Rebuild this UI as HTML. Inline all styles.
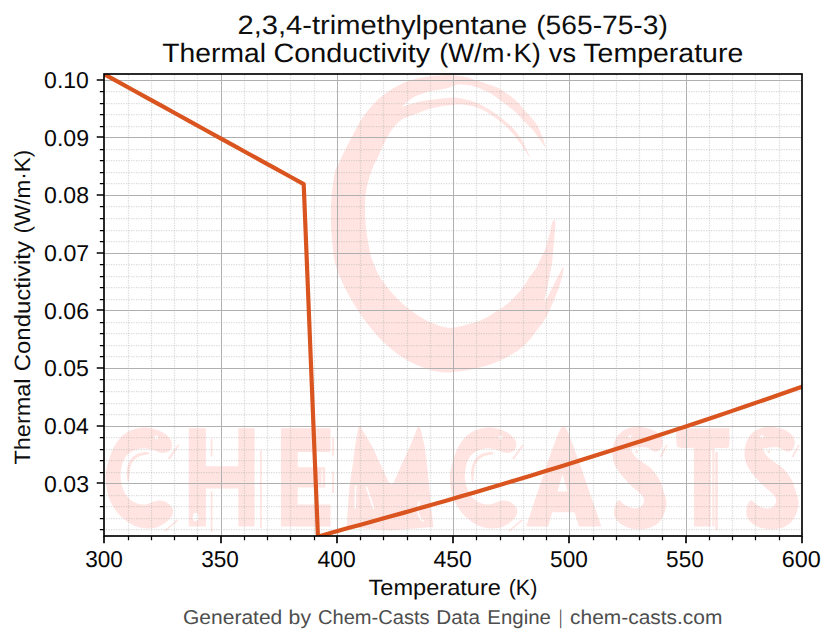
<!DOCTYPE html>
<html><head><meta charset="utf-8"><title>2,3,4-trimethylpentane Thermal Conductivity</title>
<style>html,body{margin:0;padding:0;background:#fff;width:836px;height:644px;overflow:hidden}svg{display:block}</style>
</head><body>
<svg width="836" height="644" viewBox="0 0 836 644">
<defs><clipPath id="ax"><rect x="104" y="74" width="698" height="462"/></clipPath></defs>
<rect width="836" height="644" fill="#fff"/>
<g clip-path="url(#ax)" fill="#ffe4e1"><path d="M545.9 148.0 C545.9 148.0 544.1 140.9 542.4 136.7 C540.7 132.5 538.3 126.9 535.5 122.7 C532.7 118.5 529.0 115.2 525.7 111.5 C522.4 107.8 520.1 104.1 515.9 100.4 C511.7 96.7 505.1 91.9 500.5 89.2 C495.9 86.5 491.9 85.7 488.0 84.3 C484.1 82.9 480.4 81.8 476.8 80.6 C473.2 79.4 470.3 77.9 466.1 77.0 C461.9 76.1 456.6 75.4 451.8 75.2 C447.0 75.0 442.4 75.2 437.4 75.6 C432.4 76.0 426.9 76.4 421.9 77.4 C416.9 78.4 411.7 79.8 407.2 81.4 C402.7 83.0 398.9 84.9 395.0 87.2 C391.1 89.5 386.9 92.5 383.5 95.0 C380.1 97.5 377.6 99.7 374.9 102.4 C372.2 105.1 369.7 108.2 367.4 111.1 C365.1 114.0 363.3 116.5 361.2 119.8 C359.1 123.1 357.6 126.1 355.0 131.0 C352.4 135.9 348.2 143.7 345.5 149.0 C342.8 154.3 340.7 159.3 339.0 163.0 C337.3 166.7 336.1 167.2 335.1 171.0 C334.1 174.8 333.5 180.5 332.8 185.5 C332.1 190.5 331.5 195.8 331.2 201.0 C330.9 206.2 330.8 211.4 330.9 216.6 C330.9 221.8 331.2 226.9 331.5 232.1 C331.8 237.3 332.3 242.6 332.8 247.6 C333.3 252.6 333.4 256.7 334.7 261.9 C336.0 267.1 338.1 272.7 340.6 278.6 C343.1 284.5 346.2 290.8 349.9 297.3 C353.6 303.8 358.2 311.3 362.9 317.8 C367.6 324.3 372.3 330.5 377.9 336.4 C383.5 342.3 390.3 348.5 396.5 353.2 C402.7 357.9 408.9 361.4 415.1 364.3 C421.3 367.2 428.0 369.5 433.8 370.9 C439.6 372.2 444.7 372.4 450.0 372.4 C455.3 372.3 461.3 371.3 465.7 370.6 C470.1 369.9 472.5 369.1 476.3 368.2 C480.1 367.3 484.7 366.4 488.7 365.1 C492.7 363.8 496.2 362.5 500.2 360.6 C504.2 358.7 508.9 356.1 512.6 353.9 C516.3 351.7 519.3 349.6 522.2 347.2 C525.1 344.8 527.5 342.4 529.9 339.6 C532.3 336.8 534.4 333.4 536.6 330.5 C538.8 327.6 541.0 325.2 543.1 322.0 C545.2 318.8 547.5 314.4 549.0 311.5 C550.5 308.6 551.2 306.7 552.2 304.3 C553.2 301.9 554.1 299.8 555.2 297.0 C556.3 294.2 557.8 290.7 558.9 287.6 C560.0 284.5 560.9 281.2 561.7 278.3 C562.5 275.4 563.3 272.0 563.5 270.0 C563.7 268.0 563.1 266.2 563.1 266.2 C563.1 266.2 562.7 267.5 561.7 269.5 C560.7 271.5 558.5 275.3 557.0 278.3 C555.5 281.3 553.9 284.5 552.4 287.6 C550.9 290.7 549.1 294.7 547.7 297.0 C546.3 299.3 544.0 301.6 544.0 301.6 C544.0 301.6 545.6 295.4 546.3 292.3 C547.0 289.2 547.6 286.1 548.2 283.0 C548.8 279.9 549.4 276.7 550.0 273.6 C550.6 270.5 551.4 267.4 551.9 264.3 C552.4 261.2 552.4 258.7 552.8 255.0 C553.1 251.3 553.7 245.2 554.0 242.0 C554.3 238.8 554.4 238.7 554.6 235.6 C554.9 232.5 555.5 226.4 555.5 223.7 C555.5 221.0 554.6 219.4 554.6 219.4 C554.6 219.4 553.2 219.6 552.4 222.0 C551.5 224.4 550.7 229.3 549.5 233.9 C548.3 238.5 546.4 245.7 545.2 249.3 C544.0 252.9 543.2 253.3 542.1 255.5 C541.0 257.7 539.9 260.2 538.8 262.5 C537.7 264.8 537.1 266.7 535.6 269.0 C534.1 271.3 532.3 273.1 530.0 276.4 C527.7 279.7 525.1 284.8 521.7 289.0 C518.3 293.2 513.7 298.2 509.7 301.8 C505.7 305.4 502.1 307.7 497.8 310.5 C493.5 313.3 489.2 316.3 484.1 318.7 C479.0 321.1 472.8 323.1 467.1 324.6 C461.4 326.2 455.2 328.1 450.0 328.0 C444.8 327.9 440.8 326.3 435.6 324.3 C430.4 322.3 424.1 319.2 418.8 315.9 C413.5 312.6 408.5 308.7 403.9 304.7 C399.2 300.7 394.9 296.3 390.9 291.7 C386.9 287.1 382.4 281.1 379.7 276.8 C377.0 272.5 376.2 269.6 374.7 266.0 C373.2 262.4 372.0 259.8 370.8 255.4 C369.6 251.1 368.6 245.1 367.7 239.9 C366.8 234.7 366.1 229.5 365.7 224.3 C365.3 219.1 365.1 214.0 365.1 208.8 C365.1 203.6 365.2 197.9 365.7 193.3 C366.2 188.7 367.4 184.6 368.3 181.0 C369.2 177.4 370.3 174.4 371.4 171.5 C372.4 168.6 373.5 165.9 374.6 163.5 C375.7 161.1 376.8 159.5 378.0 157.0 C379.2 154.5 380.4 151.3 381.7 148.4 C383.0 145.5 384.4 142.6 386.0 139.7 C387.6 136.8 389.1 133.7 391.0 131.0 C392.9 128.3 394.9 125.7 397.2 123.5 C399.5 121.3 401.4 119.6 404.6 118.0 C407.8 116.4 413.1 115.0 416.5 113.7 C419.9 112.4 422.1 111.2 425.2 110.2 C428.3 109.2 431.8 108.3 435.2 107.6 C438.6 106.9 442.4 106.2 445.3 105.8 C448.2 105.4 449.9 105.4 452.4 105.1 C454.8 104.8 456.4 104.0 460.0 104.2 C463.6 104.5 469.3 105.1 474.0 106.6 C478.7 108.0 483.4 110.2 488.0 112.9 C492.6 115.6 497.7 119.2 501.9 122.7 C506.1 126.2 509.8 130.2 513.1 133.9 C516.4 137.6 519.1 141.8 521.5 145.1 C523.9 148.4 525.8 151.8 527.3 154.0 C528.8 156.2 530.6 158.4 530.6 158.4 C530.6 158.4 528.6 153.8 527.1 150.7 C525.6 147.5 523.8 143.2 521.5 139.5 C519.2 135.8 516.4 131.8 513.1 128.3 C509.8 124.8 506.1 121.8 501.9 118.5 C497.7 115.2 492.6 111.5 488.0 108.7 C483.4 105.9 478.7 103.5 474.0 101.8 C469.3 100.1 463.6 99.0 460.0 98.3 C456.4 97.6 456.0 97.5 452.4 97.6 C448.8 97.7 442.9 98.5 438.1 99.0 C433.3 99.5 428.5 99.9 423.7 100.8 C418.9 101.7 413.1 103.4 409.4 104.4 C405.7 105.4 401.5 106.9 401.5 106.9 C401.5 106.9 406.5 102.3 409.0 100.5 C411.5 98.7 413.2 97.3 416.5 95.8 C419.8 94.3 425.1 92.5 428.7 91.5 C432.3 90.5 435.2 90.5 438.1 90.0 C441.0 89.5 443.6 89.2 446.0 88.6 C448.4 88.0 450.1 87.0 452.4 86.3 C454.7 85.6 456.4 84.3 460.0 84.3 C463.6 84.3 469.3 85.1 474.0 86.4 C478.7 87.7 483.6 89.7 488.0 92.0 C492.4 94.3 496.3 97.4 500.5 100.4 C504.7 103.4 509.4 106.8 513.1 110.1 C516.8 113.3 519.6 116.6 522.9 119.9 C526.2 123.2 529.9 126.4 532.7 129.7 C535.5 133.0 537.5 136.4 539.7 139.5 C541.9 142.6 545.9 148.0 545.9 148.0Z"/>
<g transform="translate(-344.3 0.0)"><path d="M516.3 444.0 C516.1 442.1 515.4 440.2 513.9 438.3 C512.4 436.4 509.9 434.1 507.2 432.5 C504.5 430.9 501.2 429.5 497.7 428.7 C494.2 427.9 490.0 427.4 486.2 427.7 C482.4 428.0 478.4 428.8 474.7 430.6 C471.0 432.4 467.2 435.0 464.2 438.3 C461.2 441.6 458.6 446.2 456.5 450.7 C454.4 455.2 452.8 460.9 451.7 465.1 C450.6 469.3 449.9 472.3 449.8 476.0 C449.7 479.7 450.2 483.7 450.8 487.5 C451.4 491.3 452.3 495.3 453.7 499.0 C455.1 502.7 457.2 506.3 459.4 509.5 C461.6 512.7 464.2 515.6 467.1 518.1 C470.0 520.6 473.1 523.1 476.6 524.8 C480.1 526.5 484.3 527.7 488.1 528.2 C491.9 528.7 496.1 528.6 499.6 527.7 C503.1 526.8 506.5 524.8 509.2 522.9 C511.9 521.0 514.5 518.3 515.9 516.2 C517.2 514.1 517.5 512.1 517.3 510.4 C517.1 508.6 516.2 507.2 514.9 505.7 C513.5 504.2 511.1 502.3 509.2 501.4 C507.3 500.5 505.3 500.3 503.4 500.4 C501.5 500.5 499.8 501.2 497.7 501.8 C495.6 502.4 493.2 503.8 491.0 504.2 C488.8 504.6 486.5 504.6 484.3 504.2 C482.1 503.8 479.7 503.0 477.6 501.8 C475.5 500.6 473.4 499.0 471.8 497.1 C470.2 495.2 469.1 492.8 468.0 490.4 C466.9 488.0 466.0 485.4 465.5 483.0 C465.0 480.6 464.8 478.5 464.8 476.0 C464.8 473.5 465.1 470.6 465.6 468.0 C466.1 465.4 467.0 462.6 468.0 460.3 C469.0 458.1 470.2 456.1 471.8 454.5 C473.4 452.9 475.5 451.6 477.6 450.7 C479.7 449.8 481.9 449.1 484.3 448.8 C486.7 448.5 489.3 448.5 491.9 448.8 C494.4 449.1 497.5 450.1 499.6 450.7 C501.7 451.3 502.6 452.3 504.4 452.6 C506.1 452.9 508.4 453.1 510.1 452.6 C511.9 452.1 513.9 451.2 514.9 449.8 C515.9 448.4 516.5 445.9 516.3 444.0Z"/><path d="M492.9 452.4 C492.9 452.4 491.4 451.8 489.5 452.1 C487.6 452.4 483.7 453.1 481.4 454.1 C479.1 455.2 477.2 456.6 475.7 458.4 C474.2 460.2 473.1 462.7 472.3 465.1 C471.5 467.5 471.2 470.3 471.1 472.7 C471.0 475.1 471.4 477.7 471.6 479.4 C471.9 481.1 472.6 483.0 472.6 483.0 C472.6 483.0 473.2 480.9 473.4 479.4 C473.6 477.8 473.7 475.8 473.9 473.7 C474.1 471.6 474.1 469.2 474.8 467.0 C475.5 464.8 476.2 462.4 477.8 460.6 C479.4 458.8 481.8 457.1 484.3 456.0 C486.8 454.9 491.5 454.8 492.9 454.2 C494.3 453.6 492.9 452.4 492.9 452.4Z"/><path d="M512.0 458.6 C512.0 458.6 522.6 444.3 522.6 444.3 C522.6 444.3 523.6 445.6 523.6 445.6 C523.6 445.6 514.2 459.4 514.2 459.4 C514.2 459.4 512.0 458.6 512.0 458.6Z"/><path d="M508.2 531.0 C508.2 531.0 521.4 519.6 521.4 519.6 C521.4 519.6 522.4 521.0 522.4 521.0 C522.4 521.0 509.6 531.6 509.6 531.6 C509.6 531.6 508.2 531.0 508.2 531.0Z"/><circle cx="500.5" cy="437.3" r="1.9" fill="#fff"/></g>
<g transform="translate(0.0 0.0)"><path d="M516.3 444.0 C516.1 442.1 515.4 440.2 513.9 438.3 C512.4 436.4 509.9 434.1 507.2 432.5 C504.5 430.9 501.2 429.5 497.7 428.7 C494.2 427.9 490.0 427.4 486.2 427.7 C482.4 428.0 478.4 428.8 474.7 430.6 C471.0 432.4 467.2 435.0 464.2 438.3 C461.2 441.6 458.6 446.2 456.5 450.7 C454.4 455.2 452.8 460.9 451.7 465.1 C450.6 469.3 449.9 472.3 449.8 476.0 C449.7 479.7 450.2 483.7 450.8 487.5 C451.4 491.3 452.3 495.3 453.7 499.0 C455.1 502.7 457.2 506.3 459.4 509.5 C461.6 512.7 464.2 515.6 467.1 518.1 C470.0 520.6 473.1 523.1 476.6 524.8 C480.1 526.5 484.3 527.7 488.1 528.2 C491.9 528.7 496.1 528.6 499.6 527.7 C503.1 526.8 506.5 524.8 509.2 522.9 C511.9 521.0 514.5 518.3 515.9 516.2 C517.2 514.1 517.5 512.1 517.3 510.4 C517.1 508.6 516.2 507.2 514.9 505.7 C513.5 504.2 511.1 502.3 509.2 501.4 C507.3 500.5 505.3 500.3 503.4 500.4 C501.5 500.5 499.8 501.2 497.7 501.8 C495.6 502.4 493.2 503.8 491.0 504.2 C488.8 504.6 486.5 504.6 484.3 504.2 C482.1 503.8 479.7 503.0 477.6 501.8 C475.5 500.6 473.4 499.0 471.8 497.1 C470.2 495.2 469.1 492.8 468.0 490.4 C466.9 488.0 466.0 485.4 465.5 483.0 C465.0 480.6 464.8 478.5 464.8 476.0 C464.8 473.5 465.1 470.6 465.6 468.0 C466.1 465.4 467.0 462.6 468.0 460.3 C469.0 458.1 470.2 456.1 471.8 454.5 C473.4 452.9 475.5 451.6 477.6 450.7 C479.7 449.8 481.9 449.1 484.3 448.8 C486.7 448.5 489.3 448.5 491.9 448.8 C494.4 449.1 497.5 450.1 499.6 450.7 C501.7 451.3 502.6 452.3 504.4 452.6 C506.1 452.9 508.4 453.1 510.1 452.6 C511.9 452.1 513.9 451.2 514.9 449.8 C515.9 448.4 516.5 445.9 516.3 444.0Z"/><path d="M492.9 452.4 C492.9 452.4 491.4 451.8 489.5 452.1 C487.6 452.4 483.7 453.1 481.4 454.1 C479.1 455.2 477.2 456.6 475.7 458.4 C474.2 460.2 473.1 462.7 472.3 465.1 C471.5 467.5 471.2 470.3 471.1 472.7 C471.0 475.1 471.4 477.7 471.6 479.4 C471.9 481.1 472.6 483.0 472.6 483.0 C472.6 483.0 473.2 480.9 473.4 479.4 C473.6 477.8 473.7 475.8 473.9 473.7 C474.1 471.6 474.1 469.2 474.8 467.0 C475.5 464.8 476.2 462.4 477.8 460.6 C479.4 458.8 481.8 457.1 484.3 456.0 C486.8 454.9 491.5 454.8 492.9 454.2 C494.3 453.6 492.9 452.4 492.9 452.4Z"/><path d="M512.0 458.6 C512.0 458.6 522.6 444.3 522.6 444.3 C522.6 444.3 523.6 445.6 523.6 445.6 C523.6 445.6 514.2 459.4 514.2 459.4 C514.2 459.4 512.0 458.6 512.0 458.6Z"/><path d="M508.2 531.0 C508.2 531.0 521.4 519.6 521.4 519.6 C521.4 519.6 522.4 521.0 522.4 521.0 C522.4 521.0 509.6 531.6 509.6 531.6 C509.6 531.6 508.2 531.0 508.2 531.0Z"/><circle cx="500.5" cy="437.3" r="1.9" fill="#fff"/></g>
<path d="M188.7 428.2 L205.9 428.2 L205.9 466.3 L238.3 466.3 L238.3 428.2 L254.6 428.2 L254.6 526.5 L238.3 526.5 L238.3 488.4 L205.9 488.4 L205.9 526.5 L188.7 526.5Z"/>
<path d="M210.7 438.8 L212.5 438.8 L212.5 456.5 L210.7 456.5Z"/>
<path d="M210.7 491.1 L212.5 491.1 L212.5 531.9 L210.7 531.9Z"/>
<path d="M260.0 450.3 L261.7 450.3 L261.7 528.3 L260.0 528.3Z"/>
<path d="M280.9 428.2 L330.5 428.2 L330.5 452.1 L297.7 452.1 L297.7 467.2 L325.2 467.2 L325.2 487.6 L297.7 487.6 L297.7 504.4 L330.5 504.4 L330.5 526.6 L280.9 526.6Z"/>
<path d="M332.2 438.0 L334.0 438.0 L334.0 455.6 L332.2 455.6Z"/>
<path d="M332.2 471.6 L334.0 471.6 L334.0 492.9 L332.2 492.9Z"/>
<path d="M346.8 527.0 C346.8 527.0 348.2 500.5 349.2 490.0 C350.2 479.5 351.8 471.2 352.8 463.9 C353.8 456.5 354.3 451.7 355.2 445.9 C356.1 440.1 357.3 432.4 358.1 429.2 C358.9 426.0 359.3 426.6 359.9 426.6 C360.5 426.6 361.8 429.0 361.8 429.0 C361.8 429.0 368.8 440.1 371.9 445.9 C375.0 451.7 380.3 463.9 380.3 463.9 C380.3 463.9 388.7 481.8 388.7 481.8 C388.7 481.8 390.6 484.6 391.5 484.6 C392.4 484.6 394.2 481.8 394.2 481.8 C394.2 481.8 401.8 463.9 401.8 463.9 C401.8 463.9 407.7 451.7 410.2 445.9 C412.7 440.1 416.8 429.2 416.8 429.2 C416.8 429.2 418.0 426.6 418.6 426.6 C419.2 426.6 420.6 429.2 420.6 429.2 C420.6 429.2 423.4 440.1 424.5 445.9 C425.6 451.7 426.2 457.9 426.9 463.9 C427.6 469.9 428.0 474.9 428.7 481.8 C429.4 488.7 430.2 497.5 431.0 505.0 C431.8 512.5 433.5 527.0 433.5 527.0 C433.5 527.0 391.0 530.5 391.0 530.5 C391.0 530.5 346.8 527.0 346.8 527.0Z"/>
<path d="M526.2 526.5 C526.2 526.5 545.0 470.0 545.0 470.0 C545.0 470.0 555.4 440.1 558.5 433.0 C561.6 425.9 561.8 427.3 563.4 427.3 C565.0 427.3 565.2 425.9 568.3 433.0 C571.4 440.1 582.0 470.0 582.0 470.0 C582.0 470.0 601.4 526.5 601.4 526.5 C601.4 526.5 579.0 526.5 579.0 526.5 C579.0 526.5 574.5 512.3 574.5 512.3 C574.5 512.3 552.3 512.3 552.3 512.3 C552.3 512.3 548.3 526.5 548.3 526.5 C548.3 526.5 526.2 526.5 526.2 526.5Z M562.5 474.0 L567.5 491.5 L557.5 491.5Z" fill-rule="evenodd"/>
<g transform="translate(-132.1 0)"><path d="M794.5 440.0 C794.0 438.1 793.0 436.2 791.4 434.6 C789.8 433.0 787.6 431.3 785.0 430.1 C782.4 428.9 779.0 427.9 776.0 427.4 C773.0 426.9 770.0 426.7 767.0 427.0 C764.0 427.3 760.7 427.9 758.0 429.2 C755.3 430.5 752.8 432.4 750.8 434.6 C748.8 436.9 747.3 439.9 746.3 442.7 C745.2 445.5 744.6 448.7 744.5 451.7 C744.4 454.7 744.6 457.8 745.4 460.7 C746.1 463.6 747.5 466.2 749.0 468.8 C750.5 471.4 752.4 473.7 754.4 476.1 C756.4 478.5 758.2 480.7 760.7 483.2 C763.2 485.7 767.3 489.1 769.7 491.3 C772.1 493.6 774.1 494.9 775.1 496.7 C776.1 498.5 776.3 500.5 776.0 502.1 C775.7 503.8 774.8 505.6 773.3 506.6 C771.8 507.7 769.2 508.4 767.0 508.4 C764.8 508.4 761.9 507.5 759.8 506.6 C757.7 505.7 755.8 504.1 754.4 503.0 C753.0 501.9 752.6 500.4 751.7 500.3 C750.8 500.2 749.8 500.9 749.0 502.1 C748.2 503.3 747.2 505.6 746.8 507.5 C746.3 509.4 746.1 511.8 746.3 513.8 C746.5 515.8 747.0 517.6 748.1 519.2 C749.2 520.9 750.7 522.3 752.6 523.7 C754.5 525.1 757.1 526.5 759.8 527.4 C762.5 528.3 765.8 529.0 768.8 529.2 C771.8 529.4 774.9 529.2 777.8 528.7 C780.6 528.2 783.5 527.3 785.9 526.0 C788.3 524.7 790.5 523.0 792.3 521.0 C794.1 519.0 795.8 516.3 796.8 513.8 C797.8 511.2 798.5 508.4 798.6 505.7 C798.8 503.0 798.3 500.3 797.7 497.6 C797.1 494.9 796.0 492.5 795.0 489.5 C794.0 486.5 793.5 483.0 791.5 479.5 C789.5 476.0 786.1 471.4 783.2 468.5 C780.3 465.6 776.9 464.1 774.2 462.0 C771.5 459.9 769.0 458.4 767.0 456.2 C765.0 454.0 762.5 448.6 762.5 448.6 C762.5 448.6 767.3 447.6 770.0 447.4 C772.7 447.2 775.9 446.9 778.7 447.6 C781.5 448.3 784.7 451.2 786.8 451.7 C788.9 452.1 790.2 451.2 791.5 450.3 C792.8 449.4 793.8 447.7 794.3 446.0 C794.8 444.3 795.0 441.9 794.5 440.0Z"/><path d="M791.6 456.6 C791.6 456.6 798.6 444.3 798.6 444.3 C798.6 444.3 799.6 445.6 799.6 445.6 C799.6 445.6 793.4 457.4 793.4 457.4 C793.4 457.4 791.6 456.6 791.6 456.6Z"/><path d="M799 505 C798 515 793 524 784 530" fill="none" stroke="#fff" stroke-width="1.3"/><circle cx="762.1" cy="436.5" r="1.6" fill="#fff"/><circle cx="768.8" cy="451.7" r="1.4"/></g>
<g transform="translate(0.0 0)"><path d="M794.5 440.0 C794.0 438.1 793.0 436.2 791.4 434.6 C789.8 433.0 787.6 431.3 785.0 430.1 C782.4 428.9 779.0 427.9 776.0 427.4 C773.0 426.9 770.0 426.7 767.0 427.0 C764.0 427.3 760.7 427.9 758.0 429.2 C755.3 430.5 752.8 432.4 750.8 434.6 C748.8 436.9 747.3 439.9 746.3 442.7 C745.2 445.5 744.6 448.7 744.5 451.7 C744.4 454.7 744.6 457.8 745.4 460.7 C746.1 463.6 747.5 466.2 749.0 468.8 C750.5 471.4 752.4 473.7 754.4 476.1 C756.4 478.5 758.2 480.7 760.7 483.2 C763.2 485.7 767.3 489.1 769.7 491.3 C772.1 493.6 774.1 494.9 775.1 496.7 C776.1 498.5 776.3 500.5 776.0 502.1 C775.7 503.8 774.8 505.6 773.3 506.6 C771.8 507.7 769.2 508.4 767.0 508.4 C764.8 508.4 761.9 507.5 759.8 506.6 C757.7 505.7 755.8 504.1 754.4 503.0 C753.0 501.9 752.6 500.4 751.7 500.3 C750.8 500.2 749.8 500.9 749.0 502.1 C748.2 503.3 747.2 505.6 746.8 507.5 C746.3 509.4 746.1 511.8 746.3 513.8 C746.5 515.8 747.0 517.6 748.1 519.2 C749.2 520.9 750.7 522.3 752.6 523.7 C754.5 525.1 757.1 526.5 759.8 527.4 C762.5 528.3 765.8 529.0 768.8 529.2 C771.8 529.4 774.9 529.2 777.8 528.7 C780.6 528.2 783.5 527.3 785.9 526.0 C788.3 524.7 790.5 523.0 792.3 521.0 C794.1 519.0 795.8 516.3 796.8 513.8 C797.8 511.2 798.5 508.4 798.6 505.7 C798.8 503.0 798.3 500.3 797.7 497.6 C797.1 494.9 796.0 492.5 795.0 489.5 C794.0 486.5 793.5 483.0 791.5 479.5 C789.5 476.0 786.1 471.4 783.2 468.5 C780.3 465.6 776.9 464.1 774.2 462.0 C771.5 459.9 769.0 458.4 767.0 456.2 C765.0 454.0 762.5 448.6 762.5 448.6 C762.5 448.6 767.3 447.6 770.0 447.4 C772.7 447.2 775.9 446.9 778.7 447.6 C781.5 448.3 784.7 451.2 786.8 451.7 C788.9 452.1 790.2 451.2 791.5 450.3 C792.8 449.4 793.8 447.7 794.3 446.0 C794.8 444.3 795.0 441.9 794.5 440.0Z"/><path d="M791.6 456.6 C791.6 456.6 798.6 444.3 798.6 444.3 C798.6 444.3 799.6 445.6 799.6 445.6 C799.6 445.6 793.4 457.4 793.4 457.4 C793.4 457.4 791.6 456.6 791.6 456.6Z"/><path d="M799 505 C798 515 793 524 784 530" fill="none" stroke="#fff" stroke-width="1.3"/><circle cx="762.1" cy="436.5" r="1.6" fill="#fff"/><circle cx="768.8" cy="451.7" r="1.4"/></g>
<path d="M676.2 428.2 C676.2 428.2 729.4 428.2 729.4 428.2 C729.4 428.2 729.8 440.8 729.4 444.0 C729.0 447.2 729.5 447.1 727.0 447.7 C724.5 448.3 714.3 447.7 714.3 447.7 C714.3 447.7 714.3 526.6 714.3 526.6 C714.3 526.6 693.9 526.6 693.9 526.6 C693.9 526.6 693.9 447.7 693.9 447.7 C693.9 447.7 683.9 448.1 681.0 447.7 C678.1 447.2 677.6 448.2 676.8 445.0 C676.0 441.8 676.2 428.2 676.2 428.2Z"/>
<path d="M715.2 452.0 L717.8 452.0 L717.8 530.0 L715.2 530.0Z"/>
<ellipse cx="195.6" cy="517" rx="2.8" ry="4.2" fill="#fff"/>
<path d="M711.6 449 V527" stroke="#fff" stroke-width="1.5" fill="none"/>
<path d="M355.6 486 L355.2 508 M366.5 487 L373.5 508 M419 502 C417 510 418 518 423 521" stroke="#fff" stroke-width="1.6" fill="none" stroke-linecap="round"/>
<path d="M299.5 454 L301.5 457 M322 470 L322 486" stroke="#fff" stroke-width="1.2" fill="none" stroke-linecap="round"/></g>
<path d="M104.42 529.5H801.92M104.42 518.5H801.92M104.42 506.5H801.92M104.42 495.5H801.92M104.42 472.5H801.92M104.42 460.5H801.92M104.42 449.5H801.92M104.42 437.5H801.92M104.42 414.5H801.92M104.42 403.5H801.92M104.42 391.5H801.92M104.42 379.5H801.92M104.42 356.5H801.92M104.42 345.5H801.92M104.42 333.5H801.92M104.42 322.5H801.92M104.42 299.5H801.92M104.42 287.5H801.92M104.42 276.5H801.92M104.42 264.5H801.92M104.42 241.5H801.92M104.42 230.5H801.92M104.42 218.5H801.92M104.42 206.5H801.92M104.42 183.5H801.92M104.42 172.5H801.92M104.42 160.5H801.92M104.42 149.5H801.92M104.42 126.5H801.92M104.42 114.5H801.92M104.42 103.5H801.92M104.42 91.5H801.92" stroke="#b0b0b0" stroke-opacity="0.45" stroke-width="1.25" stroke-dasharray="1.25 1.25" stroke-dashoffset="0.92" fill="none"/>
<path d="M128.5 536.3V74.3M151.5 536.3V74.3M174.5 536.3V74.3M197.5 536.3V74.3M244.5 536.3V74.3M267.5 536.3V74.3M290.5 536.3V74.3M314.5 536.3V74.3M360.5 536.3V74.3M383.5 536.3V74.3M407.5 536.3V74.3M430.5 536.3V74.3M476.5 536.3V74.3M500.5 536.3V74.3M523.5 536.3V74.3M546.5 536.3V74.3M593.5 536.3V74.3M616.5 536.3V74.3M639.5 536.3V74.3M662.5 536.3V74.3M709.5 536.3V74.3M732.5 536.3V74.3M755.5 536.3V74.3M779.5 536.3V74.3" stroke="#b0b0b0" stroke-opacity="0.45" stroke-width="1.25" stroke-dasharray="1.25 1.25" stroke-dashoffset="2.375" fill="none"/>
<path d="M104.42 80.5H801.92M104.42 137.5H801.92M104.42 195.5H801.92M104.42 253.5H801.92M104.42 310.5H801.92M104.42 368.5H801.92M104.42 426.5H801.92M104.42 483.5H801.92M221.5 536.3V74.3M337.5 536.3V74.3M453.5 536.3V74.3M569.5 536.3V74.3M686.5 536.3V74.3" stroke="#b0b0b0" stroke-width="1" fill="none"/>
<path d="M96.71 80H104M96.71 137H104M96.71 195H104M96.71 253H104M96.71 310H104M96.71 368H104M96.71 426H104M96.71 483H104M104 536V543.29M221 536V543.29M337 536V543.29M453 536V543.29M569 536V543.29M686 536V543.29M802 536V543.29" stroke="#000" stroke-width="1.6667" fill="none"/>
<path d="M99.83 529.5H104M99.83 518.5H104M99.83 506.5H104M99.83 495.5H104M99.83 472.5H104M99.83 460.5H104M99.83 449.5H104M99.83 437.5H104M99.83 414.5H104M99.83 403.5H104M99.83 391.5H104M99.83 379.5H104M99.83 356.5H104M99.83 345.5H104M99.83 333.5H104M99.83 322.5H104M99.83 299.5H104M99.83 287.5H104M99.83 276.5H104M99.83 264.5H104M99.83 241.5H104M99.83 230.5H104M99.83 218.5H104M99.83 206.5H104M99.83 183.5H104M99.83 172.5H104M99.83 160.5H104M99.83 149.5H104M99.83 126.5H104M99.83 114.5H104M99.83 103.5H104M99.83 91.5H104M128.5 536V540.17M151.5 536V540.17M174.5 536V540.17M197.5 536V540.17M244.5 536V540.17M267.5 536V540.17M290.5 536V540.17M314.5 536V540.17M360.5 536V540.17M383.5 536V540.17M407.5 536V540.17M430.5 536V540.17M476.5 536V540.17M500.5 536V540.17M523.5 536V540.17M546.5 536V540.17M593.5 536V540.17M616.5 536V540.17M639.5 536V540.17M662.5 536V540.17M709.5 536V540.17M732.5 536V540.17M755.5 536V540.17M779.5 536V540.17" stroke="#000" stroke-width="1.2500" fill="none"/>
<g clip-path="url(#ax)"><path d="M104.42 74.30 L118.65 82.14 L132.89 89.99 L147.12 97.83 L161.36 105.68 L175.59 113.52 L189.82 121.37 L204.06 129.21 L218.29 137.06 L232.53 144.90 L246.76 152.75 L261.00 160.59 L275.23 168.43 L289.47 176.28 L303.70 184.12 L317.94 536.70 L332.17 532.42 L346.41 528.58 L360.64 524.71 L374.88 520.79 L389.11 516.85 L403.35 512.87 L417.58 508.85 L431.81 504.79 L446.05 500.71 L460.28 496.58 L474.52 492.42 L488.75 488.22 L502.99 483.99 L517.22 479.72 L531.46 475.41 L545.69 471.07 L559.93 466.70 L574.16 462.28 L588.40 457.83 L602.63 453.35 L616.87 448.83 L631.10 444.27 L645.34 439.68 L659.57 435.05 L673.80 430.39 L688.04 425.69 L702.27 420.95 L716.51 416.18 L730.74 411.38 L744.98 406.53 L759.21 401.65 L773.45 396.74 L787.68 391.79 L801.92 386.80" stroke="#d9541e" stroke-width="4.1667" fill="none" stroke-linejoin="round" stroke-linecap="square"/></g>
<rect x="104" y="74" width="698" height="462" fill="none" stroke="#000" stroke-width="1.6667"/>
<g font-family="Liberation Sans, sans-serif" text-rendering="geometricPrecision">
<text transform="translate(237.544 33.906) scale(1.0966 1)" font-size="26.550" fill="#101010">2,3,4-trimethylpentane</text>
<text transform="translate(536.239 33.906) scale(1.0613 1)" font-size="26.550" fill="#101010">(565-75-3)</text>
<text transform="translate(162.365 61.906) scale(1.0634 1)" font-size="26.550" fill="#0b0b0b">Thermal</text>
<text transform="translate(273.563 61.906) scale(1.0821 1)" font-size="26.550" fill="#0b0b0b">Conductivity</text>
<text transform="translate(439.296 61.906) scale(1.0267 1)" font-size="26.550" fill="#0b0b0b">(W/m·K)</text>
<text transform="translate(548.865 61.906) scale(1.0201 1)" font-size="26.550" fill="#0b0b0b">vs</text>
<text transform="translate(583.359 61.906) scale(1.0727 1)" font-size="26.550" fill="#0b0b0b">Temperature</text>
<text transform="translate(368.469 594.755) scale(1.0673 1)" font-size="22.125" fill="#0d0d0d">Temperature</text>
<text transform="translate(508.654 594.755) scale(0.9732 1)" font-size="22.125" fill="#0d0d0d">(K)</text>
<text transform="translate(29.755 464.528) rotate(-90) scale(1.0612 1)" font-size="22.125" fill="#0e0e0e">Thermal</text>
<text transform="translate(29.755 371.196) rotate(-90) scale(1.0807 1)" font-size="22.125" fill="#0e0e0e">Conductivity</text>
<text transform="translate(29.755 233.408) rotate(-90) scale(1.0184 1)" font-size="22.125" fill="#0e0e0e">(W/m·K)</text>
<text transform="translate(182.949 624.469) scale(1.0561 1)" font-size="19.913" fill="#4d4d4d">Generated</text>
<text transform="translate(288.618 624.469) scale(1.0680 1)" font-size="19.913" fill="#4d4d4d">by</text>
<text transform="translate(317.995 624.469) scale(1.0094 1)" font-size="19.913" fill="#4d4d4d">Chem-Casts</text>
<text transform="translate(436.291 624.469) scale(1.0403 1)" font-size="19.913" fill="#4d4d4d">Data</text>
<text transform="translate(487.315 624.469) scale(1.0254 1)" font-size="19.913" fill="#4d4d4d">Engine</text>
<text transform="translate(558.875 624.469) scale(0.6277 1)" font-size="19.913" fill="#4d4d4d">|</text>
<text transform="translate(570.111 624.469) scale(1.0503 1)" font-size="19.913" fill="#4d4d4d">chem-casts.com</text>
<text transform="translate(44.079 87.578) scale(1.0004 1)" font-size="23.017" fill="#070707">0.10</text>
<text transform="translate(44.075 145.578) scale(1.0044 1)" font-size="23.017" fill="#070707">0.09</text>
<text transform="translate(44.077 202.578) scale(1.0031 1)" font-size="23.017" fill="#070707">0.08</text>
<text transform="translate(44.073 260.578) scale(1.0071 1)" font-size="23.017" fill="#070707">0.07</text>
<text transform="translate(44.077 318.578) scale(1.0031 1)" font-size="23.017" fill="#070707">0.06</text>
<text transform="translate(44.078 375.578) scale(1.0017 1)" font-size="23.017" fill="#070707">0.05</text>
<text transform="translate(44.084 433.578) scale(0.9951 1)" font-size="23.017" fill="#070707">0.04</text>
<text transform="translate(44.077 491.578) scale(1.0031 1)" font-size="23.017" fill="#070707">0.03</text>
<text transform="translate(85.152 566.578) scale(0.9822 1)" font-size="23.017" fill="#070707">300</text>
<text transform="translate(201.152 566.578) scale(0.9822 1)" font-size="23.017" fill="#070707">350</text>
<text transform="translate(317.482 566.578) scale(1.0000 1)" font-size="23.017" fill="#070707">400</text>
<text transform="translate(433.482 566.578) scale(1.0000 1)" font-size="23.017" fill="#070707">450</text>
<text transform="translate(550.094 566.578) scale(0.9837 1)" font-size="23.017" fill="#070707">500</text>
<text transform="translate(666.094 566.578) scale(0.9837 1)" font-size="23.017" fill="#070707">550</text>
<text transform="translate(781.829 566.578) scale(1.0174 1)" font-size="23.017" fill="#070707">600</text>
</g>
</svg>
</body></html>
